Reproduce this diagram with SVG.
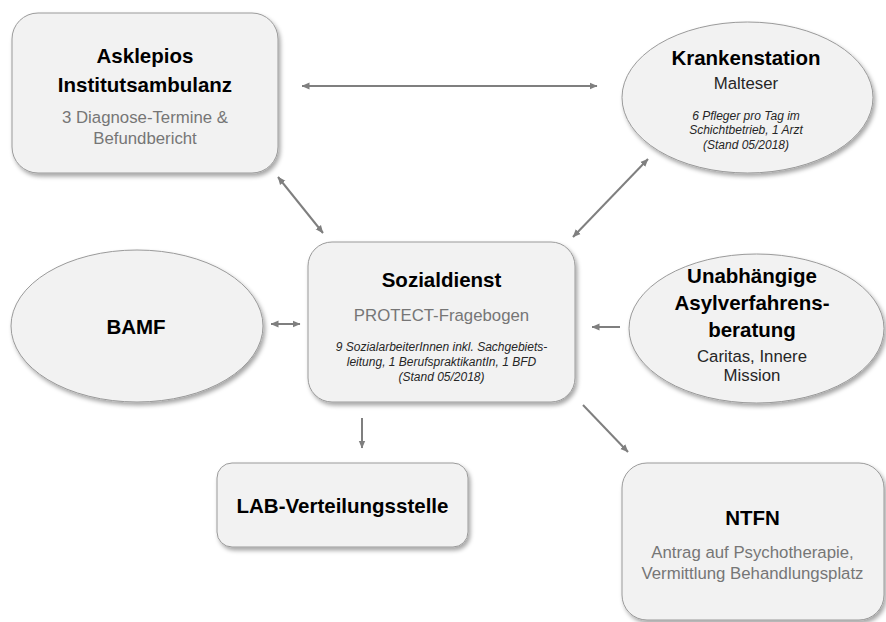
<svg xmlns="http://www.w3.org/2000/svg" width="886" height="622" viewBox="0 0 886 622">
<defs>
<filter id="sh" x="-10%" y="-10%" width="125%" height="130%">
<feDropShadow dx="2" dy="3" stdDeviation="2" flood-color="#000" flood-opacity="0.35"/>
</filter>
<marker id="ah" viewBox="0 0 8 8" markerWidth="8" markerHeight="8" refX="7.5" refY="4" orient="auto-start-reverse" markerUnits="userSpaceOnUse">
<path d="M0,0.6 L8,4 L0,7.4 z" fill="#7f7f7f"/>
</marker>
</defs>
<style>
.node{fill:#f2f2f2;stroke:#9a9a9a;stroke-width:1;filter:url(#sh)}
text{font-family:"Liberation Sans",Arial,sans-serif;text-anchor:middle}
.h{font-weight:bold;font-size:20.5px;fill:#000}
.s{font-size:16.8px;fill:#767676}
.d{font-size:16.8px;fill:#262626}
.i{font-style:italic;font-size:12px;fill:#262626}
.c{stroke:#7f7f7f;stroke-width:2;fill:none}
.c1{marker-end:url(#ah)}
.c2{marker-start:url(#ah);marker-end:url(#ah)}
</style>
<g id="connectors">
<line class="c c2" x1="302" y1="86" x2="597" y2="86"/>
<line class="c c2" x1="278" y1="177" x2="323" y2="233"/>
<line class="c c2" x1="648" y1="159" x2="573" y2="237"/>
<line class="c c2" x1="271" y1="324" x2="300" y2="324"/>
<line class="c c1" x1="620" y1="327" x2="592" y2="327"/>
<line class="c c1" x1="362" y1="418" x2="362" y2="448"/>
<line class="c c1" x1="583" y1="405" x2="628" y2="452"/>
</g>
<g id="asklepios">
<rect class="node" x="12" y="13" width="266" height="160" rx="26"/>
<text class="h" x="145" y="63">Asklepios</text>
<text class="h" x="145" y="92">Institutsambulanz</text>
<text class="s" x="145" y="123">3 Diagnose-Termine &amp;</text>
<text class="s" x="145" y="144">Befundbericht</text>
</g>
<g id="krankenstation">
<ellipse class="node" cx="747.5" cy="97.5" rx="125.5" ry="75.5"/>
<text class="h" x="746" y="65">Krankenstation</text>
<text class="d" x="746" y="89">Malteser</text>
<text class="i" x="746" y="120">6 Pfleger pro Tag im</text>
<text class="i" x="746" y="134">Schichtbetrieb, 1 Arzt</text>
<text class="i" x="746" y="149">(Stand 05/2018)</text>
</g>
<g id="bamf">
<ellipse class="node" cx="137" cy="326" rx="126" ry="76"/>
<text class="h" x="136" y="334">BAMF</text>
</g>
<g id="sozialdienst">
<rect class="node" x="308" y="242" width="267" height="160" rx="24"/>
<text class="h" x="441.5" y="287">Sozialdienst</text>
<text class="s" x="441.5" y="321">PROTECT-Fragebogen</text>
<text class="i" x="441.5" y="351">9 SozialarbeiterInnen inkl. Sachgebiets-</text>
<text class="i" x="441.5" y="366">leitung, 1 BerufspraktikantIn, 1 BFD</text>
<text class="i" x="441.5" y="381">(Stand 05/2018)</text>
</g>
<g id="asylberatung">
<ellipse class="node" cx="756.5" cy="328.5" rx="127.5" ry="74.5"/>
<text class="h" x="752" y="283">Unabhängige</text>
<text class="h" x="752" y="310">Asylverfahrens-</text>
<text class="h" x="752" y="337">beratung</text>
<text class="d" x="752" y="362">Caritas, Innere</text>
<text class="d" x="752" y="381">Mission</text>
</g>
<g id="lab">
<rect class="node" x="217" y="463" width="251" height="84" rx="15"/>
<text class="h" x="342.5" y="513">LAB-Verteilungsstelle</text>
</g>
<g id="ntfn">
<rect class="node" x="622" y="463" width="262" height="157" rx="25"/>
<text class="h" x="752.5" y="525">NTFN</text>
<text class="s" x="752.5" y="558">Antrag auf Psychotherapie,</text>
<text class="s" x="752.5" y="579">Vermittlung Behandlungsplatz</text>
</g>
</svg>
